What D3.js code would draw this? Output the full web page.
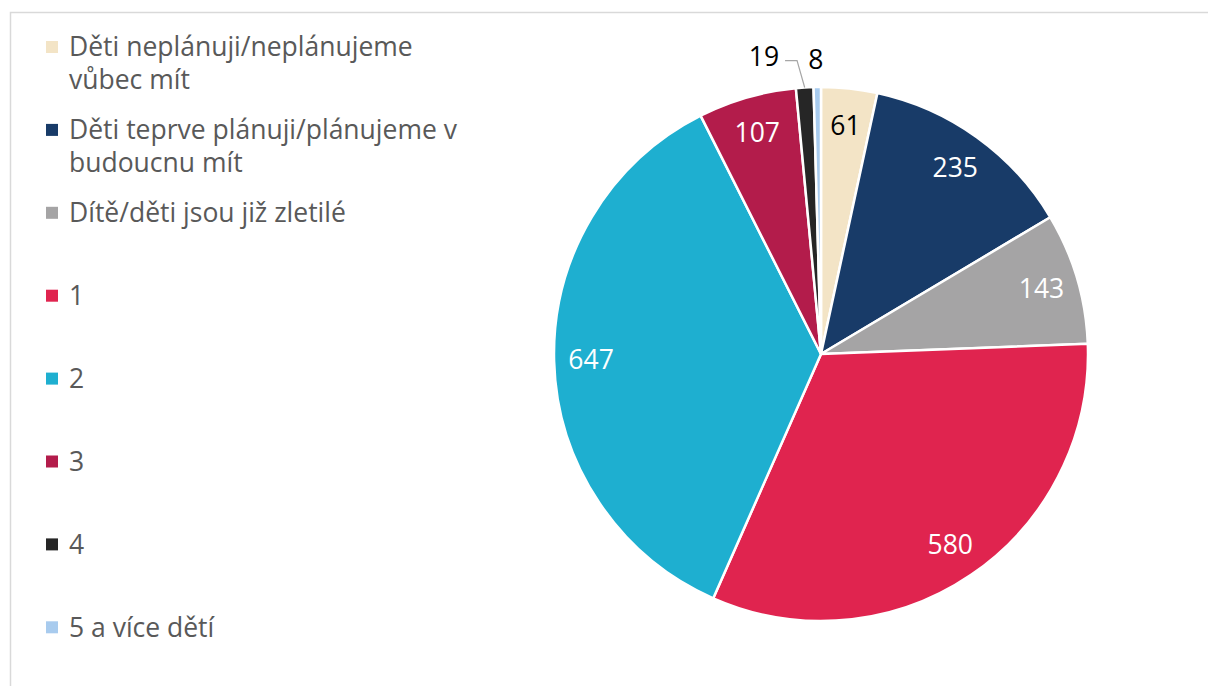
<!DOCTYPE html>
<html>
<head>
<meta charset="utf-8">
<script src="https://cdn.jsdelivr.net/npm/d3@7"></script>
<style>
  body { margin: 0; background: #fff; }
  svg { display: block; font-family: "Open Sans", "Noto Sans", sans-serif; }
</style>
</head>
<body>
<div class="pie-chart"></div>
<script>
const categories = [
  'Děti neplánuji/neplánujeme vůbec mít',
  'Děti teprve plánuji/plánujeme v budoucnu mít',
  'Dítě/děti jsou již zletilé',
  '1',
  '2',
  '3',
  '4',
  '5 a více dětí'
];
const values = [61, 235, 143, 580, 647, 107, 19, 8];
const colors = ['#f3e4c6', '#183b68', '#a5a4a5', '#e0244f', '#1eafd0', '#b31c4b', '#262626', '#a8cbee'];
const darkLabel = [true, false, false, false, false, false, true, true];

const width = 1208;
const height = 686;
const cx = 821;
const cy = 354;
const radius = 267;
const fontSize = 26.5;

const svg = d3
  .select('.pie-chart')
  .append('svg')
  .attr('width', width)
  .attr('height', height);

// frame
svg
  .append('path')
  .attr('d', `M10.5,${height} L10.5,12.5 L${width},12.5`)
  .attr('fill', 'none')
  .attr('stroke', '#d9d9d9')
  .attr('stroke-width', 1.5);

const data = categories.map((c, i) => ({ name: c, value: values[i], color: colors[i], dark: darkLabel[i], i }));

const pie = d3.pie().value(d => d.value).sort(null);
const arcs = pie(data);

const arc = d3.arc().innerRadius(0).outerRadius(radius);
const labelArc = d3.arc().innerRadius(230).outerRadius(230);
const edgeArc = d3.arc().innerRadius(radius).outerRadius(radius);
const outerArc = d3.arc().innerRadius(radius + 27).outerRadius(radius + 27);

const g = svg.append('g').attr('transform', `translate(${cx},${cy})`);

// slices
g.selectAll('.slice')
  .data(arcs)
  .enter()
  .append('path')
  .attr('class', 'slice')
  .attr('fill', d => d.data.color)
  .attr('stroke', '#fff')
  .attr('stroke-width', 2.5)
  .attr('stroke-linejoin', 'round')
  .attr('d', arc);

// labels inside for big slices
const big = arcs.filter(d => d.data.value > 30);
g.selectAll('.in-label')
  .data(big)
  .enter()
  .append('text')
  .attr('class', 'in-label')
  .attr('transform', d => `translate(${labelArc.centroid(d)})`)
  .attr('text-anchor', 'middle')
  .attr('dy', '0.35em')
  .attr('font-size', fontSize)
  .attr('fill', d => (d.data.dark ? '#000' : '#fff'))
  .text(d => d.data.value);

// small slices: outside labels
const small = arcs.filter(d => d.data.value <= 30);
small.forEach((d, k) => {
  const p = outerArc.centroid(d);
  if (k === 0) {
    const e = edgeArc.centroid(d);
    const elbow = [p[0] - 6, p[1]];
    g.append('path')
      .attr('d', `M${e[0]},${e[1]} L${elbow[0]},${elbow[1]} L${elbow[0] - 12},${elbow[1]}`)
      .attr('fill', 'none')
      .attr('stroke', '#a6a6a6')
      .attr('stroke-width', 1.2);
    g.append('text')
      .attr('x', elbow[0] - 18)
      .attr('y', elbow[1])
      .attr('dy', '0.2em')
      .attr('text-anchor', 'end')
      .attr('font-size', fontSize)
      .attr('fill', '#000')
      .text(d.data.value);
  } else {
    g.append('text')
      .attr('x', p[0] - 1)
      .attr('y', p[1])
      .attr('dy', '0.35em')
      .attr('text-anchor', 'middle')
      .attr('font-size', fontSize)
      .attr('fill', '#000')
      .text(d.data.value);
  }
});

// legend
const legend = svg.append('g').attr('transform', 'translate(46,47)');
const rowStep = 82.9;
const lineStep = 33;
const maxWidth = 400;

const items = legend
  .selectAll('.legend-item')
  .data(data)
  .enter()
  .append('g')
  .attr('class', 'legend-item')
  .attr('transform', (d, i) => `translate(0,${i * rowStep})`);

items
  .append('rect')
  .attr('x', 0)
  .attr('y', -6)
  .attr('width', 12)
  .attr('height', 12)
  .attr('fill', d => d.color);

items.each(function (d) {
  const text = d3
    .select(this)
    .append('text')
    .attr('font-size', fontSize)
    .attr('fill', '#595959');
  const words = d.name.split(' ');
  let line = [];
  let lineNo = 0;
  let tspan = text.append('tspan').attr('x', 23).attr('y', 0).attr('dy', '0.35em');
  words.forEach(w => {
    line.push(w);
    tspan.text(line.join(' '));
    if (tspan.node().getComputedTextLength() > maxWidth && line.length > 1) {
      line.pop();
      tspan.text(line.join(' '));
      line = [w];
      lineNo++;
      tspan = text
        .append('tspan')
        .attr('x', 23)
        .attr('y', lineNo * lineStep)
        .attr('dy', '0.35em')
        .text(w);
    }
  });
});
</script>
</body>
</html>
